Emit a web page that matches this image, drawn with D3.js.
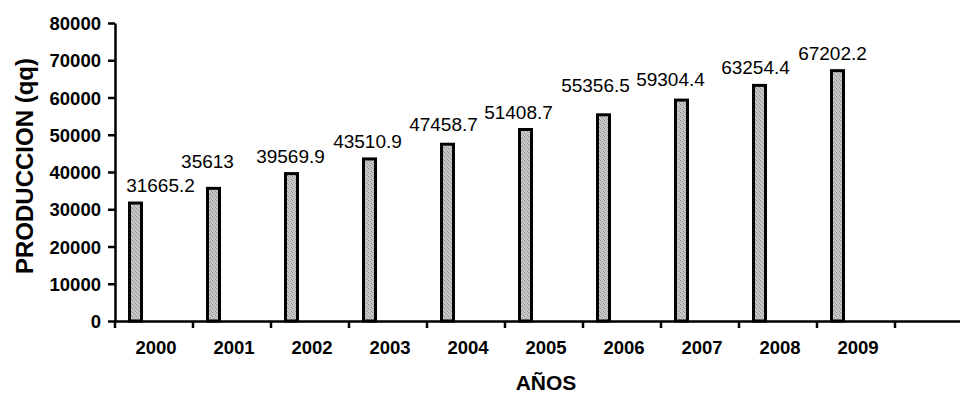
<!DOCTYPE html>
<html>
<head>
<meta charset="utf-8">
<script src="https://cdn.jsdelivr.net/npm/d3@7"></script>
<style>
    html, body { margin: 0; padding: 0; background: #fff; }
    svg { display: block; font-family: "Liberation Sans", Arial, sans-serif; }
    .axis path, .axis line { stroke: #000; stroke-width: 2.5; }
    .axis text { font-weight: bold; fill: #000; }
</style>
</head>
<body>
<div id="chart"></div>
<script>
"use strict";

const years = ["2000", "2001", "2002", "2003", "2004", "2005", "2006", "2007", "2008", "2009"];
const produccion = [31665.2, 35613, 39569.9, 43510.9, 47458.7, 51408.7, 55356.5, 59304.4, 63254.4, 67202.2];
const yTicks = [0, 10000, 20000, 30000, 40000, 50000, 60000, 70000, 80000];
const labelText = ["31665.2", "35613", "39569.9", "43510.9", "47458.7", "51408.7", "55356.5", "59304.4", "63254.4", "67202.2"];

// hand placed label nudges, like in the original sheet
const labelDx = [25, -6, -1, -2, -4, -7, -8, -11, -4, -5];
const labelDy = [0, 9, 0, 0, 2, 0, 12, 3, 0, 0];

const W = 960, H = 396;
const plotLeft = 115, plotBottom = 321, plotTop = 23;
const bandW = 78;

const svg = d3.select("#chart").append("svg").attr("width", W).attr("height", H);

// fine grey stipple for the bars
const defs = svg.append("defs");
const pat = defs.append("pattern")
    .attr("id", "stipple")
    .attr("width", 4).attr("height", 4)
    .attr("patternUnits", "userSpaceOnUse");
pat.append("rect").attr("width", 4).attr("height", 4).attr("fill", "#c8c8c8");
[[0, 0, "#8c8c8c"], [2, 1, "#9a9a9a"], [1, 2, "#a5a5a5"], [3, 3, "#909090"]].forEach(function (p) {
    pat.append("rect").attr("x", p[0]).attr("y", p[1]).attr("width", 1).attr("height", 1).attr("fill", p[2]);
});

// one extra empty category on the right, as in the source chart
const cats = years.concat([""]);
const x = d3.scaleBand().domain(cats).range([plotLeft, plotLeft + bandW * cats.length]).padding(0);
const y = d3.scaleLinear().domain([0, 80000]).range([plotBottom, plotTop]);

// bars
svg.append("g")
    .selectAll("rect")
    .data(produccion)
    .enter()
    .append("rect")
    .attr("x", function (d, i) { return x(years[i]) + 14.5; })
    .attr("y", function (d) { return y(d); })
    .attr("width", 12)
    .attr("height", function (d) { return plotBottom - y(d); })
    .attr("fill", "url(#stipple)")
    .attr("stroke", "#000")
    .attr("stroke-width", 3);

// value labels
svg.append("g")
    .selectAll("text")
    .data(produccion)
    .enter()
    .append("text")
    .attr("x", function (d, i) { return x(years[i]) + 20.5 + labelDx[i]; })
    .attr("y", function (d, i) { return y(d) - 11 - labelDy[i]; })
    .attr("text-anchor", "middle")
    .style("font-size", "19px")
    .text(function (d, i) { return labelText[i]; });

// y axis
const yAxis = svg.append("g")
    .attr("class", "axis")
    .attr("transform", "translate(" + plotLeft + ",0)")
    .call(d3.axisLeft(y).tickValues(yTicks).tickFormat(d3.format("d")).tickSize(7).tickSizeOuter(0).tickPadding(7));
yAxis.selectAll("text").style("font-size", "18.5px").attr("dy", "0.36em");

// x axis, ticks sit on the category boundaries
const xAxis = svg.append("g")
    .attr("class", "axis")
    .attr("transform", "translate(0," + plotBottom + ")")
    .call(d3.axisBottom(x).tickSize(7).tickSizeOuter(0).tickPadding(13));
xAxis.selectAll(".tick line").attr("x1", -bandW / 2).attr("x2", -bandW / 2);
xAxis.selectAll("text").style("font-size", "18.5px").attr("dx", 2);

// titles
svg.append("text")
    .attr("transform", "translate(33,166) rotate(-90)")
    .attr("text-anchor", "middle")
    .style("font-size", "24px")
    .style("font-weight", "bold")
    .text("PRODUCCION (qq)");

svg.append("text")
    .attr("x", 546)
    .attr("y", 390)
    .attr("text-anchor", "middle")
    .style("font-size", "21px")
    .style("font-weight", "bold")
    .text("AÑOS");
</script>
</body>
</html>
